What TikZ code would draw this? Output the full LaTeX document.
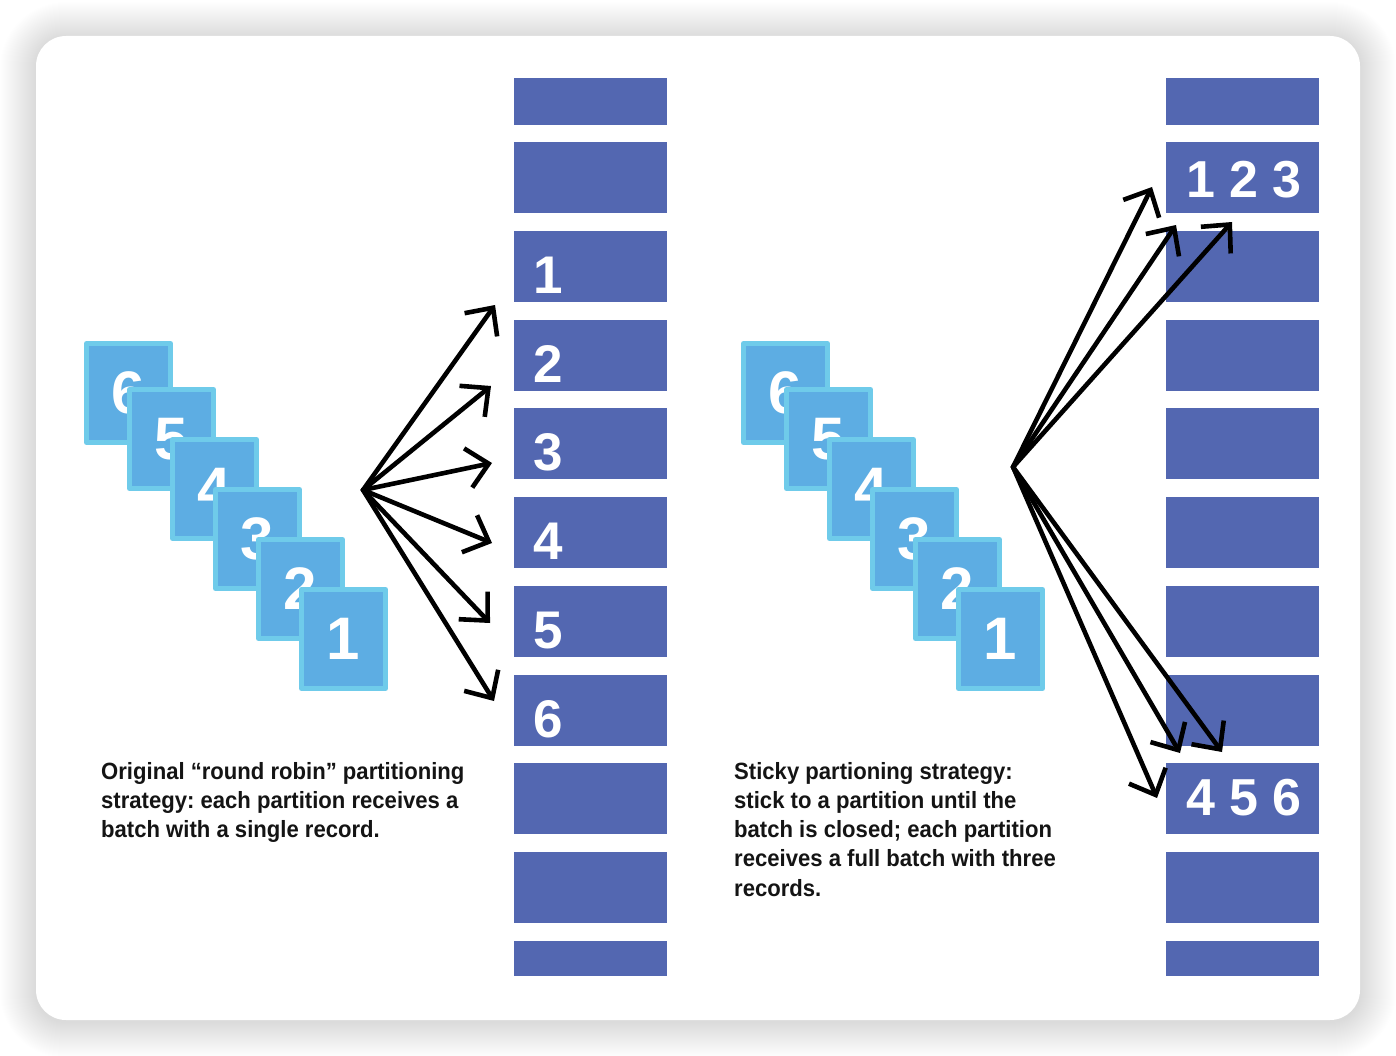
\documentclass[tikz,border=0pt]{standalone}
\usepackage{fontspec}
\setmainfont{Liberation Sans}
\newfontfamily\capfont{Liberation Sans}[FakeStretch=0.94]
\usetikzlibrary{arrows.meta}
\definecolor{barblue}{HTML}{5367B1}
\definecolor{sqfill}{HTML}{5DADE3}
\definecolor{sqedge}{HTML}{6FCBEA}
\definecolor{captxt}{HTML}{141414}
\frenchspacing
\begin{document}
\begin{tikzpicture}[x=1pt,y=-1pt,line join=round,
  barbox/.style={fill=barblue,inner sep=0pt,outer sep=0pt,minimum width=153pt,anchor=north west},
  bardig/.style={text=white,inner sep=0pt,anchor=base west,font=\fontsize{53}{53}\selectfont\bfseries},
  batchdig/.style={text=white,inner sep=0pt,font=\fontsize{52}{52}\selectfont\bfseries},
  sq/.style={draw=sqedge,fill=sqfill,line width=5pt,minimum width=84pt,minimum height=99pt,inner sep=0pt,text=white,font=\fontsize{60}{60}\selectfont\bfseries},
  fan/.style={line width=4.6pt,line cap=round,-{Straight Barb[length=21pt,width=40pt]}},
  captext/.style={anchor=base west,align=left,inner sep=0pt,text=captxt,font=\capfont\bfseries\fontsize{23.5}{29.3}\selectfont}
]
\useasboundingbox (0,0) rectangle (1396,1056);
\fill[white] (0,0) rectangle (1396,1056);
% shadow
\foreach \i in {1,...,36}{
  \fill[black,opacity=0.0055,rounded corners={30+\i}] ({36-\i},{38-\i}) rectangle ({1360+\i},{1022+\i});
}
% card
\fill[white,rounded corners=30] (36,36) rectangle (1360,1020);

% ---------- bars ----------
\foreach \side/\x in {L/514,R/1166}{
  \node[barbox,minimum height=47pt] (\side1) at (\x,78) {};
  \foreach \k [evaluate=\k as \ty using 142+88.75*(\k-2)] in {2,...,10}{
    \node[barbox,minimum height=71pt] (\side\k) at (\x,\ty) {};
  }
  \node[barbox,minimum height=35.25pt] (\side11) at (\x,940.75) {};
}

% digits in left bars
\node[bardig] (l1) at (533,293.25) {1};
\node[bardig] (l2) at (533,382) {2};
\node[bardig] (l3) at (533,470.75) {3};
\node[bardig] (l4) at (533,559.5) {4};
\node[bardig] (l5) at (533,648.25) {5};
\node[bardig] (l6) at (533,737) {6};

% batches in right bars
\node[batchdig] (b123) at (1244,180) {1 2 3};
\node[batchdig] (b456) at (1244,798) {4 5 6};

% ---------- record stacks ----------
\node[sq] (a6) at (128.5,393) {6};
\node[sq] (a5) at (171.5,439) {5};
\node[sq] (a4) at (214.5,489) {4};
\node[sq] (a3) at (257.5,539) {3};
\node[sq] (a2) at (300.5,589) {2};
\node[sq] (a1) at (343.5,639) {1};

\node[sq] (c6) at (785.5,393) {6};
\node[sq] (c5) at (828.5,439) {5};
\node[sq] (c4) at (871.5,489) {4};
\node[sq] (c3) at (914.5,539) {3};
\node[sq] (c2) at (957.5,589) {2};
\node[sq] (c1) at (1000.5,639) {1};

% ---------- fans ----------
\coordinate (lo) at (363,490);
\coordinate (lt1) at (495,305);
\coordinate (lt2) at (491,386);
\coordinate (lt3) at (492,463);
\coordinate (lt4) at (492,543);
\coordinate (lt5) at (490,623);
\coordinate (lt6) at (494,701);
\foreach \t in {1,...,6}{ \draw[fan] (lo) -- (lt\t); }

\coordinate (ro) at (1013,467);
\coordinate (rt1) at (1152,187);
\coordinate (rt2) at (1176,225);
\coordinate (rt3) at (1232,222);
\coordinate (rt4) at (1180,753);
\coordinate (rt5) at (1222,752);
\coordinate (rt6) at (1157,798);
\foreach \t in {1,...,6}{ \draw[fan] (ro) -- (rt\t); }

% ---------- captions (anchored at the baseline of the last line) ----------
\node[captext] (capL) at (101,837.6) {Original “round robin” partitioning\\strategy: each partition receives a\\batch with a single record.};
\node[captext] (capR) at (734,896.2) {Sticky partioning strategy:\\stick to a partition until the\\batch is closed; each partition\\receives a full batch with three\\records.};
\end{tikzpicture}
\end{document}
